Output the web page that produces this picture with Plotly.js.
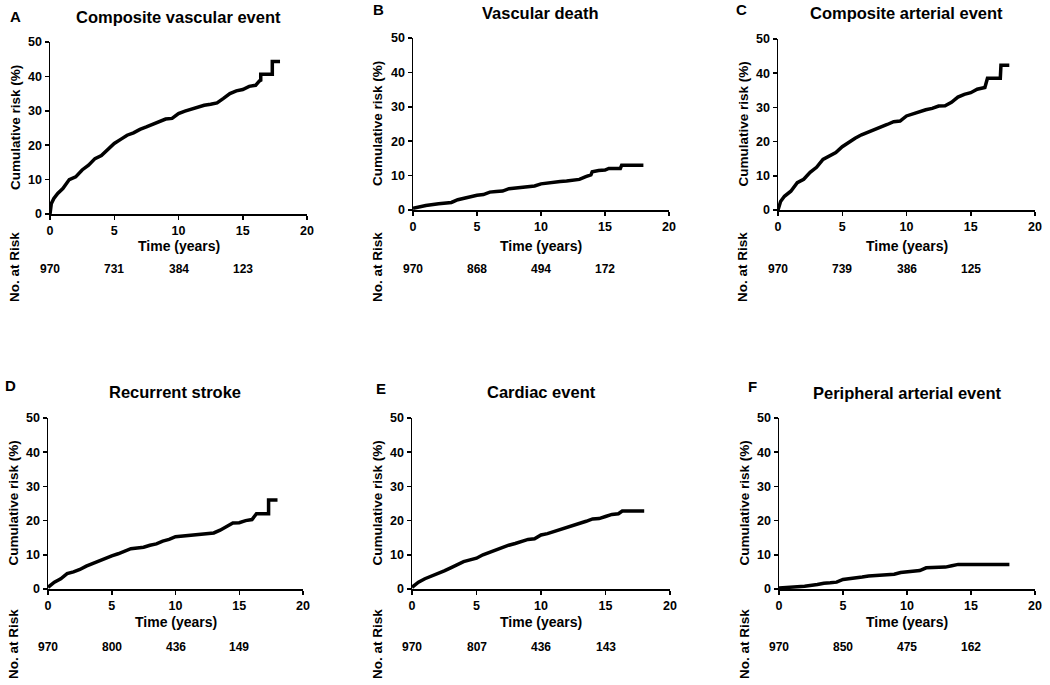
<!DOCTYPE html>
<html>
<head>
<meta charset="utf-8">
<script src="https://cdn.plot.ly/plotly-3.0.1.min.js"></script>
<style>html,body{margin:0;padding:0;background:#fff;}#chart{width:1050px;height:685px;}</style>
</head>
<body>
<div id="chart"></div>
<script>
// ---- Data ----
const panelLetters = ['A', 'B', 'C', 'D', 'E', 'F'];
const panelTitles = ['Composite vascular event', 'Vascular death', 'Composite arterial event',
                     'Recurrent stroke', 'Cardiac event', 'Peripheral arterial event'];
const xTickVals = [0, 5, 10, 15, 20];
const yTickVals = [0, 10, 20, 30, 40, 50];
const atRiskTimes = [0, 5, 10, 15];

const timeA = [0, 0.1, 0.3, 0.6, 1.0, 1.5, 2.0, 2.5, 3.0, 3.5, 4.0, 4.5, 5.0, 5.5, 6.0, 6.5, 7.0, 7.5, 8.0, 8.5, 9.0, 9.5, 10.0, 10.5, 11.0, 11.5, 12.0, 12.5, 13.0, 13.5, 14.0, 14.5, 15.0, 15.5, 16.0, 16.3, 16.4, 16.4, 17.3, 17.3, 17.9];
const riskA = [0, 3, 4.5, 6, 7.4, 10, 10.8, 12.8, 14.2, 16.1, 17, 18.6, 20.5, 21.7, 22.9, 23.6, 24.6, 25.3, 26.1, 26.8, 27.6, 27.8, 29.2, 29.9, 30.5, 31, 31.6, 31.9, 32.3, 33.6, 35, 35.8, 36.2, 37.1, 37.4, 38.7, 38.9, 40.6, 40.6, 44.3, 44.3];

const timeB = [0, 0.5, 1, 2, 3, 3.5, 4, 4.5, 5, 5.5, 6, 6.5, 7, 7.5, 8, 8.5, 9, 9.5, 10, 10.5, 11, 11.5, 12, 12.5, 13, 13.5, 13.9, 14, 14.5, 15, 15.3, 16.2, 16.3, 18];
const riskB = [0.5, 1, 1.3, 1.8, 2.2, 3, 3.5, 4, 4.3, 4.5, 5.2, 5.4, 5.5, 6.2, 6.4, 6.5, 6.6, 7, 7.6, 7.9, 8.2, 8.3, 8.4, 8.6, 8.9, 9.7, 10.2, 11.1, 11.5, 11.6, 12.1, 12.1, 13, 13];

const timeC = [0, 0.2, 0.5, 1, 1.5, 2, 2.5, 3, 3.5, 4, 4.5, 5, 5.5, 6, 6.5, 7, 7.5, 8, 8.5, 9, 9.5, 10, 10.5, 11, 11.5, 12, 12.5, 13, 13.5, 14, 14.5, 15, 15.5, 16.1, 16.3, 17.3, 17.35, 18];
const riskC = [0, 2.5, 4, 5.5, 8, 9, 11, 12.5, 14.8, 15.8, 16.8, 18.5, 19.8, 21, 22, 22.7, 23.5, 24.3, 25, 25.8, 26, 27.5, 28.1, 28.8, 29.3, 29.7, 30.4, 30.5, 31.5, 33, 33.8, 34.3, 35.3, 35.8, 38.5, 38.5, 42.3, 42.3];

const timeD = [0, 0.5, 1, 1.5, 2, 2.5, 3, 3.5, 4, 4.5, 5, 5.5, 6, 6.5, 7, 7.5, 8, 8.5, 9, 9.5, 10, 10.5, 11, 11.5, 12, 12.5, 13, 13.5, 14, 14.5, 15, 15.5, 16, 16.35, 17.3, 17.3, 18];
const riskD = [0.5, 2, 3, 4.5, 5, 5.7, 6.7, 7.5, 8.3, 9, 9.7, 10.3, 11, 11.8, 12, 12.2, 12.8, 13.2, 14, 14.5, 15.3, 15.5, 15.6, 15.8, 16.1, 16.3, 16.4, 17.2, 18.3, 19.3, 19.4, 20, 20.3, 22, 22, 26, 26];

const timeE = [0, 0.5, 1, 1.5, 2, 2.5, 3, 3.5, 4, 4.5, 5, 5.5, 6, 6.5, 7, 7.5, 8, 8.5, 9, 9.5, 10, 10.5, 11, 11.5, 12, 12.5, 13, 13.5, 14, 14.5, 15, 15.5, 16, 16.3, 18];
const riskE = [0.5, 2, 3, 3.7, 4.5, 5.3, 6.2, 7.2, 8, 8.5, 9, 10, 10.7, 11.5, 12.1, 12.8, 13.3, 13.8, 14.5, 14.7, 15.8, 16.2, 16.8, 17.4, 18, 18.6, 19, 19.8, 20.5, 20.6, 21.2, 21.8, 22, 22.8, 22.8];

const timeF = [0, 1, 2, 3, 3.5, 4, 4.5, 5, 5.5, 6, 6.5, 7, 7.5, 8, 9, 9.5, 10, 10.5, 11, 11.5, 12, 13, 13.5, 14, 15, 18];
const riskF = [0.3, 0.5, 0.8, 1.3, 1.7, 1.8, 2, 2.8, 3, 3.1, 3.5, 3.8, 3.9, 4, 4.3, 4.8, 5, 5.1, 5.4, 6.2, 6.3, 6.4, 6.8, 7.2, 7.2, 7.2];

const atRiskA = [970, 731, 384, 123];
const atRiskB = [970, 868, 494, 172];
const atRiskC = [970, 739, 386, 125];
const atRiskD = [970, 800, 436, 149];
const atRiskE = [970, 807, 436, 143];
const atRiskF = [970, 850, 475, 162];

// ---- Layout geometry (pixels) ----
const W = 1050, H = 685;
const FONT = 'Liberation Sans, Arial, Helvetica, sans-serif';
const boxes = [ // [x0, x1, yTop, yBottom]
  [50, 307, 42, 214],
  [413, 669, 38, 210],
  [778, 1035, 39, 210],
  [48, 303, 418, 589],
  [412, 670, 418, 589],
  [779, 1035, 418, 589]
];
const titlePos = [[178, 17], [540, 13], [906, 13], [175, 392], [541, 392], [907, 393]];
const letterPos = [[15, 17], [378, 10], [741, 10], [10, 385], [381, 388], [752, 387]];
const rowTimeY = [246, 246, 246, 622, 622, 622];
const rowNumY = [269, 269, 269, 647, 647, 647];
const rowNoRiskY = [267, 267, 267, 644, 644, 644];

const times = [timeA, timeB, timeC, timeD, timeE, timeF];
const risks = [riskA, riskB, riskC, riskD, riskE, riskF];
const atRisks = [atRiskA, atRiskB, atRiskC, atRiskD, atRiskE, atRiskF];

const px = x => x / W;
const py = y => 1 - y / H;

const data = [];
const layout = {
  width: W, height: H,
  margin: {l: 0, r: 0, t: 0, b: 0},
  paper_bgcolor: '#fff', plot_bgcolor: '#fff',
  showlegend: false,
  font: {family: FONT, color: '#000'},
  annotations: []
};

for (let i = 0; i < 6; i++) {
  const n = i + 1;
  const xa = n === 1 ? 'xaxis' : 'xaxis' + n;
  const ya = n === 1 ? 'yaxis' : 'yaxis' + n;
  const xr = n === 1 ? 'x' : 'x' + n;
  const yr = n === 1 ? 'y' : 'y' + n;
  const b = boxes[i];
  data.push({
    type: 'scatter', mode: 'lines',
    x: times[i], y: risks[i],
    xaxis: xr, yaxis: yr,
    line: {color: '#000', width: 3.5, shape: 'linear'},
    hoverinfo: 'skip'
  });
  const common = {
    showline: true, linecolor: '#000', linewidth: 1.5,
    ticks: 'outside', ticklen: 4, tickwidth: 1.5, tickcolor: '#000',
    showgrid: false, zeroline: false, fixedrange: true,
    tickfont: {family: FONT, size: 12.5, weight: 'bold', color: '#000'}
  };
  layout[xa] = Object.assign({}, common, {
    domain: [px(b[0]), px(b[1])], range: [0, 20], tickvals: xTickVals, anchor: yr
  });
  layout[ya] = Object.assign({}, common, {
    domain: [py(b[3]), py(b[2])], range: [0, 50], tickvals: yTickVals, anchor: xr
  });
  layout.annotations.push({
    xref: 'paper', yref: 'paper', x: px(titlePos[i][0]), y: py(titlePos[i][1]),
    text: panelTitles[i], showarrow: false, xanchor: 'center', yanchor: 'middle',
    font: {family: FONT, size: 16.5, weight: 'bold', color: '#000'}
  });
  layout.annotations.push({
    xref: 'paper', yref: 'paper', x: px(letterPos[i][0]), y: py(letterPos[i][1]),
    text: panelLetters[i], showarrow: false, xanchor: 'center', yanchor: 'middle',
    font: {family: FONT, size: 15, weight: 'bold', color: '#000'}
  });
  layout.annotations.push({
    xref: 'paper', yref: 'paper', x: px(b[0] - 35), y: py((b[2] + b[3]) / 2),
    text: 'Cumulative risk (%)', showarrow: false, textangle: -90,
    xanchor: 'center', yanchor: 'middle',
    font: {family: FONT, size: 13.5, weight: 'bold', color: '#000'}
  });
  layout.annotations.push({
    xref: 'paper', yref: 'paper', x: px((b[0] + b[1]) / 2), y: py(rowTimeY[i]),
    text: 'Time (years)', showarrow: false, xanchor: 'center', yanchor: 'middle',
    font: {family: FONT, size: 14, weight: 'bold', color: '#000'}
  });
  layout.annotations.push({
    xref: 'paper', yref: 'paper', x: px(b[0] - 35), y: py(rowNoRiskY[i]),
    text: 'No. at Risk', showarrow: false, textangle: -90,
    xanchor: 'center', yanchor: 'middle',
    font: {family: FONT, size: 13.5, weight: 'bold', color: '#000'}
  });
  for (let k = 0; k < atRiskTimes.length; k++) {
    layout.annotations.push({
      xref: xr, yref: 'paper', x: atRiskTimes[k], y: py(rowNumY[i]),
      text: String(atRisks[i][k]), showarrow: false, xanchor: 'center', yanchor: 'middle',
      font: {family: FONT, size: 12, weight: 'bold', color: '#000'}
    });
  }
}

Plotly.newPlot('chart', data, layout, {staticPlot: true, displayModeBar: false});
</script>
</body>
</html>
